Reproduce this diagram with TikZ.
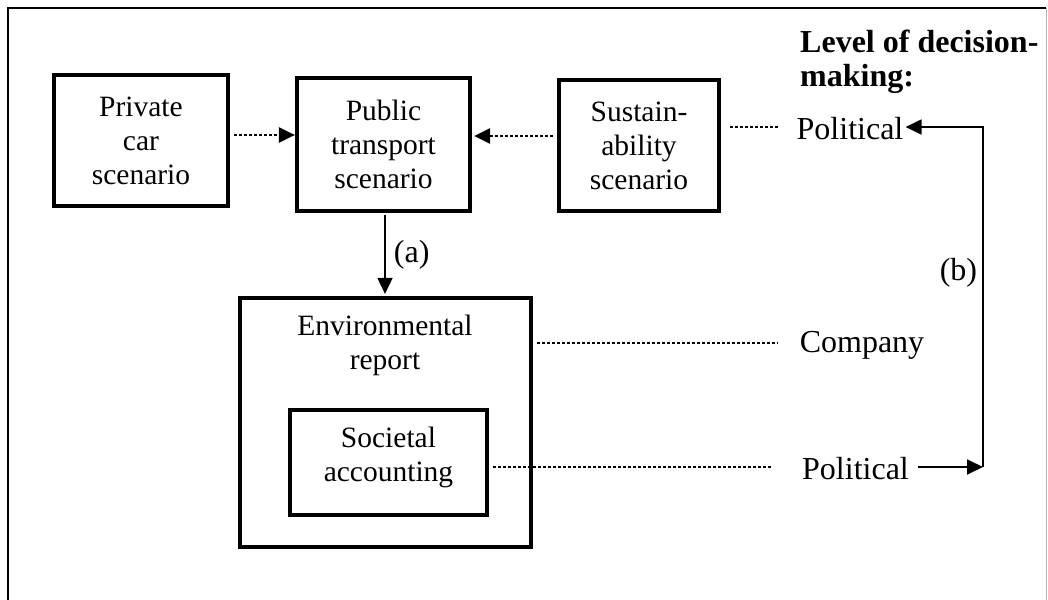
\documentclass[tikz,border=0pt]{standalone}
\usepackage{fontspec}
\setmainfont{Liberation Serif}
\usetikzlibrary{arrows.meta}
\begin{document}
\begin{tikzpicture}[x=1pt,y=-1pt,
  box/.style={draw,line width=4.2pt,inner sep=0pt,align=center},
  lbl/.style={inner sep=0pt,align=center},
  txt/.style={font=\fontsize{29.5}{34}\selectfont},
  big/.style={font=\fontsize{32}{34}\selectfont},
  dots/.style={line width=2.6pt,dash pattern=on 2.6pt off 2.4pt},
  tip/.style={-{Triangle[length=16pt,width=15pt]}},
  solid arrow/.style={line width=1.8pt,tip},
]
\useasboundingbox (0,0) rectangle (1048,599);
% frame
\draw[line width=2.6pt] (8,601) -- (8,8) -- (1046,8);
\draw[line width=1pt,gray!60] (1046,8) -- (1046,601);

% scenario boxes
\node[box,txt,minimum width=174pt,minimum height=131pt] (private) at (141,140.5) {Private\\car\\scenario};
\node[box,txt,minimum width=173pt,minimum height=133pt] (public) at (383.5,144.5) {Public\\transport\\scenario};
\node[box,txt,minimum width=160pt,minimum height=131pt] (sustain) at (639,145.5) {Sustain-\\ability\\scenario};

% report boxes
\node[box,minimum width=291pt,minimum height=249pt] (env) at (385.5,422.5) {};
\node[lbl,txt] (envtext) at (385,345) {Environmental\\report};
\node[box,minimum width=197pt,minimum height=105pt] (soc) at (388.5,462.5) {};
\node[lbl,txt] (soctext) at (388.5,457) {Societal\\accounting};

% decision levels
\node[lbl,font=\fontsize{32}{34}\selectfont\bfseries,anchor=north west,align=left] (head) at (800,30) {Level of decision-\\making:};
\node[lbl,big] (pol1) at (850,129) {Political};
\node[lbl,big] (comp) at (862,345) {Company};
\node[lbl,big] (pol2) at (855.5,469) {Political};

% dotted links
\draw[dots,tip] ([yshift=5.5pt,xshift=4pt]private.east) -- ([yshift=5.5pt]private.east -| public.west);
\draw[dots,tip] ([yshift=9.5pt,xshift=-4pt]sustain.west) -- ([yshift=9.5pt,xshift=2pt]sustain.west -| public.east);
\draw[dots] ([xshift=9pt]sustain.east |- 0,127) -- (778,127);
\draw[dots] ([xshift=4pt]env.east |- 0,343) -- (778,343);
\draw[dots] ([xshift=4pt]soc.east |- 0,467) -- (773,467);

% solid arrows
\draw[solid arrow] ([yshift=-2pt]public.south -| 385,0) -- node[lbl,big,right=8pt] (a) {(a)} ([yshift=2pt]env.north -| 385,0);
\coordinate (bc) at (983,467);
\draw[solid arrow] ([xshift=9pt]pol2.east |- bc) -- (bc);
\draw[solid arrow] (bc) -- node[lbl,big,left=5pt,pos=0.57] (b) {(b)} (983,127) -- ([xshift=2pt]pol1.east |- 0,127);
\end{tikzpicture}
\end{document}
